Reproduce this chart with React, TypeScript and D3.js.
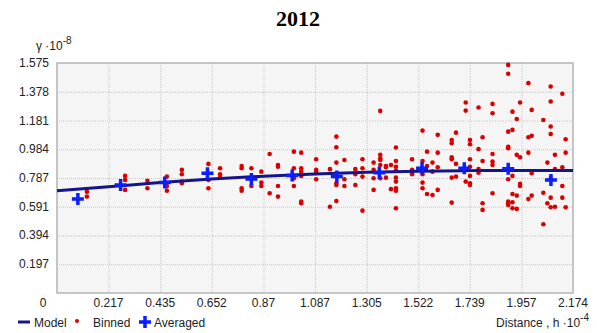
import React, { useEffect, useRef } from 'react'
import * as d3 from 'd3'

// axis ticks (h in 10^-4, gamma in 10^-8)
const xTicks = [0, 0.217, 0.435, 0.652, 0.87, 1.087, 1.305, 1.522, 1.739, 1.957, 2.174]
const yTicks = [0, 0.197, 0.394, 0.591, 0.787, 0.984, 1.181, 1.378, 1.575]

// fitted model curve
const modelH = [0, 0.217, 0.435, 0.652, 0.87, 1.087, 1.305, 1.522, 1.739, 1.957, 2.174]
const modelG = [0.701, 0.728, 0.756, 0.78, 0.8, 0.815, 0.827, 0.834, 0.838, 0.839, 0.839]

// averaged semivariance per lag
const avgH = [0.088, 0.268, 0.454, 0.634, 0.819, 0.991, 1.179, 1.358, 1.538, 1.716, 1.901, 2.081]
const avgG = [0.644, 0.74, 0.756, 0.82, 0.781, 0.804, 0.797, 0.824, 0.854, 0.854, 0.85, 0.774]

// binned points: lag position and the values found at it
const binH = [
  0.126, 0.287, 0.381, 0.463, 0.526, 0.638, 0.687, 0.778, 0.819, 0.861, 0.896, 0.931, 0.998, 1.029,
  1.092, 1.15, 1.177, 1.211, 1.257, 1.287, 1.334, 1.362, 1.386, 1.407, 1.428, 1.496, 1.54, 1.559,
  1.582, 1.604, 1.663, 1.681, 1.722, 1.74, 1.776, 1.793, 1.835, 1.901, 1.919, 1.937, 1.951, 1.986,
  2.0, 2.049, 2.066, 2.08, 2.098, 2.129, 2.143,
]
const binG = [
  [0.694, 0.66],
  [0.802, 0.774, 0.706],
  [0.769, 0.717],
  [0.797, 0.733, 0.701],
  [0.843, 0.813, 0.763, 0.752],
  [0.884, 0.774, 0.717],
  [0.854, 0.813, 0.79],
  [0.87, 0.854, 0.717, 0.701],
  [0.854, 0.733],
  [0.831, 0.756, 0.733],
  [0.952, 0.683],
  [0.877, 0.865, 0.733, 0.66],
  [0.968, 0.854, 0.786, 0.733],
  [0.961, 0.854, 0.831, 0.802, 0.626, 0.615],
  [0.916, 0.843, 0.831, 0.779],
  [0.848, 0.591],
  [1.071, 0.998, 0.893, 0.752, 0.74, 0.63],
  [0.911, 0.779, 0.733],
  [0.848, 0.813, 0.74],
  [0.916, 0.854, 0.797, 0.564],
  [0.893, 0.843, 0.786, 0.706],
  [1.247, 0.946, 0.923, 0.911, 0.877, 0.786],
  [0.87, 0.861, 0.79],
  [0.877, 0.711],
  [0.996, 0.904, 0.865, 0.838, 0.79, 0.763, 0.717, 0.701, 0.58],
  [0.916, 0.843, 0.824, 0.813],
  [1.112, 0.904, 0.813, 0.756, 0.717],
  [0.968, 0.87, 0.678],
  [0.893, 0.831, 0.671],
  [1.083, 0.961, 0.861, 0.706],
  [1.048, 1.026, 0.93, 0.916, 0.79, 0.619],
  [1.098, 0.884, 0.797],
  [1.304, 1.249, 0.763],
  [1.048, 1.019, 0.916, 0.865, 0.802, 0.752, 0.74],
  [1.27, 0.985, 0.848, 0.824],
  [1.067, 0.904, 0.615, 0.569],
  [1.295, 1.231, 0.952, 0.9, 0.877, 0.683],
  [1.562, 1.501, 1.105, 1.002, 0.991, 0.779, 0.626, 0.615, 0.603],
  [1.242, 1.117, 0.802, 0.678, 0.621, 0.58],
  [1.192, 0.946, 0.667, 0.576],
  [1.304, 0.93, 0.747, 0.733],
  [1.437, 1.067, 0.961, 0.644],
  [1.254, 1.076, 0.82, 0.667],
  [1.185, 0.687, 0.471],
  [0.893, 0.615],
  [1.414, 1.311, 1.14, 1.089, 0.786, 0.653, 0.587],
  [0.946, 0.848, 0.591],
  [1.364, 0.861, 0.733, 0.653],
  [1.053, 0.961, 0.587],
]

const W = 597
const H = 333
const SANS = '"Liberation Sans", Arial, sans-serif'
const CROSS = 'M-6,0H6M0,-6V6'

const App = () => {
  const ref = useRef<SVGSVGElement>(null)

  useEffect(() => {
    const svg = d3.select(ref.current)
    svg.selectAll('*').remove()

    const x = d3.scaleLinear().domain([0, 2.174]).range([57, 573])
    const y = d3.scaleLinear().domain([0, 1.575]).range([293, 63])

    svg.append('rect').attr('width', W).attr('height', H).attr('fill', '#fff')

    // title
    svg.append('text')
      .attr('x', 298).attr('y', 26)
      .attr('text-anchor', 'middle')
      .style('font-family', '"Liberation Serif", "Times New Roman", serif')
      .style('font-weight', 'bold').style('font-size', '22px')
      .text('2012')

    // plot area
    svg.append('rect')
      .attr('x', x(0)).attr('y', y(1.575))
      .attr('width', x(2.174) - x(0)).attr('height', y(0) - y(1.575))
      .attr('fill', '#f5f5f5')

    // grid
    const grid = svg.append('g').attr('stroke', '#c8c8c8').attr('stroke-dasharray', '1,1')
    grid.selectAll('.gx').data(xTicks.slice(1, -1)).enter().append('line')
      .attr('x1', d => x(d) + 0.5).attr('x2', d => x(d) + 0.5)
      .attr('y1', y(1.575)).attr('y2', y(0))
    grid.selectAll('.gy').data(yTicks.slice(1, -1)).enter().append('line')
      .attr('y1', d => y(d) + 0.5).attr('y2', d => y(d) + 0.5)
      .attr('x1', x(0)).attr('x2', x(2.174))

    svg.append('rect')
      .attr('x', x(0)).attr('y', y(1.575))
      .attr('width', x(2.174) - x(0)).attr('height', y(0) - y(1.575))
      .attr('fill', 'none').attr('stroke', '#b4b4b4').attr('stroke-width', 1.5)

    // tick labels
    const lab = svg.append('g').style('font-family', SANS).style('font-size', '12px').attr('fill', '#222')
    lab.selectAll('.yl').data(yTicks.slice(1)).enter().append('text')
      .attr('x', 49).attr('y', d => y(d) + 4)
      .attr('text-anchor', 'end')
      .text(d => d3.format('.3f')(d))
    lab.selectAll('.xl').data(xTicks).enter().append('text')
      .attr('x', d => (d === 0 ? 43 : x(d)))
      .attr('y', 307)
      .attr('text-anchor', 'middle')
      .text(d => (d === 0 ? '0' : String(d)))

    // axis titles
    const yt = lab.append('text').attr('x', 36).attr('y', 50)
    yt.append('tspan').text('γ ·10')
    yt.append('tspan').attr('dy', -6).style('font-size', '10px').text('-8')

    const xt = lab.append('text').attr('x', 589).attr('y', 327).attr('text-anchor', 'end')
    xt.append('tspan').text('Distance , h ·10')
    xt.append('tspan').attr('dy', -6).style('font-size', '10px').text('-4')

    // binned dots
    const binned = binH.flatMap((h, i) => binG[i].map(g => ({ h, g })))
    svg.append('g').selectAll('circle').data(binned).enter().append('circle')
      .attr('cx', d => x(d.h)).attr('cy', d => y(d.g))
      .attr('r', 2.3).attr('fill', '#d90000')

    // model curve
    const line = d3.line<number>()
      .x((d, i) => x(modelH[i]))
      .y(d => y(d))
      .curve(d3.curveMonotoneX)
    svg.append('path')
      .datum(modelG)
      .attr('d', line)
      .attr('fill', 'none').attr('stroke', '#14148c').attr('stroke-width', 3)

    // averaged crosses
    svg.append('g').selectAll('path').data(avgH).enter().append('path')
      .attr('transform', (d, i) => `translate(${x(d)},${y(avgG[i])})`)
      .attr('d', CROSS)
      .attr('stroke', '#0a1eff').attr('stroke-width', 3.5).attr('fill', 'none')

    // legend
    const lg = svg.append('g')
    lg.append('line').attr('x1', 18).attr('x2', 30).attr('y1', 322).attr('y2', 322)
      .attr('stroke', '#14148c').attr('stroke-width', 3)
    lg.append('circle').attr('cx', 77).attr('cy', 321).attr('r', 2).attr('fill', '#d90000')
    lg.append('path').attr('transform', 'translate(145,322)').attr('d', CROSS)
      .attr('stroke', '#0a1eff').attr('stroke-width', 3.5).attr('fill', 'none')
    const lt = lg.append('g').style('font-family', SANS).style('font-size', '12px').attr('fill', '#222')
    lt.append('text').attr('x', 34).attr('y', 327).text('Model')
    lt.append('text').attr('x', 93).attr('y', 327).text('Binned')
    lt.append('text').attr('x', 154).attr('y', 327).text('Averaged')
  }, [])

  return (
    <svg ref={ref} width={W} height={H} style={{ position: 'absolute', left: 0, top: 0 }} />
  )
}

export default App
